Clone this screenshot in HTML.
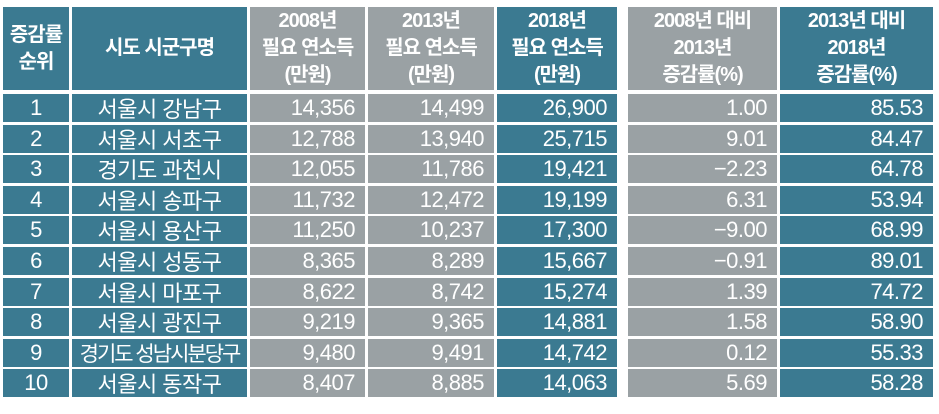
<!DOCTYPE html>
<html><head><meta charset="utf-8"><style>
body{margin:0;width:939px;height:414px;background:#fff;overflow:hidden;font-family:"Liberation Sans","Noto Sans CJK KR",sans-serif;position:relative}
.c{position:absolute;color:#fff;box-sizing:border-box;display:flex;align-items:center;white-space:nowrap}
.t{background:#3b7a91}.g{background:#9aa1a4}
.h{font-weight:bold;font-size:20px;line-height:27px;justify-content:center;text-align:center;letter-spacing:-1px}
.d{font-size:22px;letter-spacing:-0.5px}
.ctr{justify-content:center}.r{justify-content:flex-end;padding-right:10px}
</style></head><body>
<div id="tbl"></div>
<script>
const cols=[[3,69,'t'],[72,247,'t'],[250,365,'g'],[368,494,'g'],[497,617,'t'],[628,777,'g'],[780,933,'t']];
const headers=['증감률<br>순위','시도 시군구명','2008년<br>필요 연소득<br>(만원)','2013년<br>필요 연소득<br>(만원)','2018년<br>필요 연소득<br>(만원)','2008년 대비<br>2013년<br>증감률(%)','2013년 대비<br>2018년<br>증감률(%)'];
const headerNames=['rank-header','region-header','income-2008-header','income-2013-header','income-2018-header','change-2008-2013-header','change-2013-2018-header'];
const ranks=['1','2','3','4','5','6','7','8','9','10'];
const regions=['서울시 강남구','서울시 서초구','경기도 과천시','서울시 송파구','서울시 용산구','서울시 성동구','서울시 마포구','서울시 광진구','경기도 성남시분당구','서울시 동작구'];
const inc2008=['14,356','12,788','12,055','11,732','11,250','8,365','8,622','9,219','9,480','8,407'];
const inc2013=['14,499','13,940','11,786','12,472','10,237','8,289','8,742','9,365','9,491','8,885'];
const inc2018=['26,900','25,715','19,421','19,199','17,300','15,667','15,274','14,881','14,742','14,063'];
const chg0813=['1.00','9.01','-2.23','6.31','-9.00','-0.91','1.39','1.58','0.12','5.69'];
const chg1318=['85.53','84.47','64.78','53.94','68.99','89.01','74.72','58.90','55.33','58.28'];
const cellNames=['rank-cell','region-cell','income-2008-cell','income-2013-cell','income-2018-cell','change-2008-2013-cell','change-2013-2018-cell'];
const tbl=document.getElementById('tbl');
cols.forEach((c,i)=>{
  const e=document.createElement('div');
  e.className='c h '+c[2];
  e.style.cssText=`left:${c[0]}px;width:${c[1]-c[0]}px;top:7px;height:83px`;
  e.innerHTML='<div>'+headers[i]+'</div>';
  
  
  tbl.appendChild(e);
});
const data=[ranks,regions,inc2008,inc2013,inc2018,chg0813,chg1318];
for(let r=0;r<ranks.length;r++){
  const top=94+r*30.6;
  cols.forEach((c,i)=>{
    const e=document.createElement('div');
    e.className='c d '+c[2]+(i<2?' ctr':' r');
    e.style.cssText=`left:${c[0]}px;width:${c[1]-c[0]}px;top:${top}px;height:28px`;
    let v=data[i][r];
    if(i==1&&v.length>7){e.style.letterSpacing='-2px';e.style.fontSize='21px';}
    e.textContent=v.replace('-','−');
    
    
    tbl.appendChild(e);
  });
}
</script>
</body></html>
